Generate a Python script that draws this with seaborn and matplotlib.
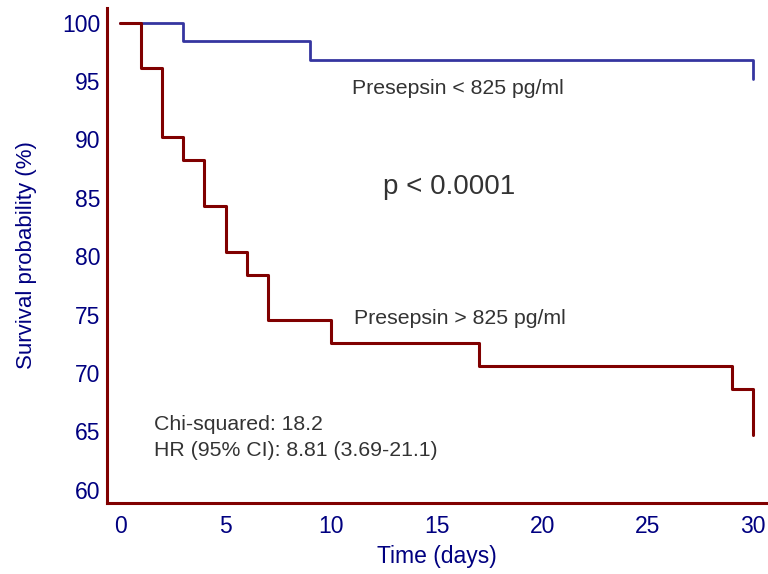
import numpy as np
import pandas as pd
import matplotlib
matplotlib.use("Agg")
import matplotlib.pyplot as plt
import seaborn as sns

# Kaplan-Meier step values
low_days = [0, 3, 9, 30]
low_surv = [100, 98.39, 96.77, 95.16]
high_days = [0, 1, 2, 3, 4, 5, 6, 7, 10, 17, 29, 30]
high_surv = [100, 96.08, 90.20, 88.24, 84.31, 80.39, 78.43, 74.51, 72.55, 70.59, 68.63, 64.71]
x_ticks = [0, 5, 10, 15, 20, 25, 30]
y_ticks = [60, 65, 70, 75, 80, 85, 90, 95, 100]

# Colours
axis_red = "#800000"
navy = "#000080"
blue_line = "#3535a0"
text_gray = "#333333"

sns.set_style("white")
plt.rcParams['font.family'] = ['Liberation Sans', 'DejaVu Sans']

fig = plt.figure(figsize=(7.68, 5.74), dpi=100)
ax = fig.add_axes([107 / 768, 71.3 / 574, 660 / 768, 494.7 / 574])

low_df = pd.DataFrame({"days": low_days, "surv": low_surv})
high_df = pd.DataFrame({"days": high_days, "surv": high_surv})

sns.lineplot(data=low_df, x="days", y="surv", ax=ax, color=blue_line, linewidth=2,
             drawstyle="steps-post", estimator=None, sort=False)
sns.lineplot(data=high_df, x="days", y="surv", ax=ax, color=axis_red, linewidth=2.2,
             drawstyle="steps-post", estimator=None, sort=False)

ax.set_xlim(-0.62, 30.66)
ax.set_ylim(58.9, 101.25)
ax.set_xticks(x_ticks)
ax.set_yticks(y_ticks)

# Spines and ticks
sns.despine(ax=ax)
for side in ["left", "bottom"]:
    ax.spines[side].set_color(axis_red)
    ax.spines[side].set_linewidth(2.2)
ax.tick_params(axis="both", direction="in", length=8.5, width=2.2, color=axis_red,
               labelcolor=navy, labelsize=16.5)
ax.tick_params(axis="y", pad=5)
ax.tick_params(axis="x", pad=9)

ax.set_xlabel("Time (days)", color=navy, fontsize=16.5, labelpad=5)
ax.set_ylabel("Survival probability (%)", color=navy, fontsize=16, labelpad=18)

# Annotations
ax.text(11.0, 94.4, "Presepsin < 825 pg/ml", color=text_gray, fontsize=15.3, va="center", ha="left")
ax.text(12.45, 85.9, "p < 0.0001", color=text_gray, fontsize=20, va="center", ha="left")
ax.text(11.1, 74.7, "Presepsin > 825 pg/ml", color=text_gray, fontsize=15.3, va="center", ha="left")
ax.text(1.6, 65.6, "Chi-squared: 18.2", color=text_gray, fontsize=15.3, va="center", ha="left")
ax.text(1.6, 63.4, "HR (95% CI): 8.81 (3.69-21.1)", color=text_gray, fontsize=15.3, va="center", ha="left")

fig.savefig("out.png", dpi=100)
